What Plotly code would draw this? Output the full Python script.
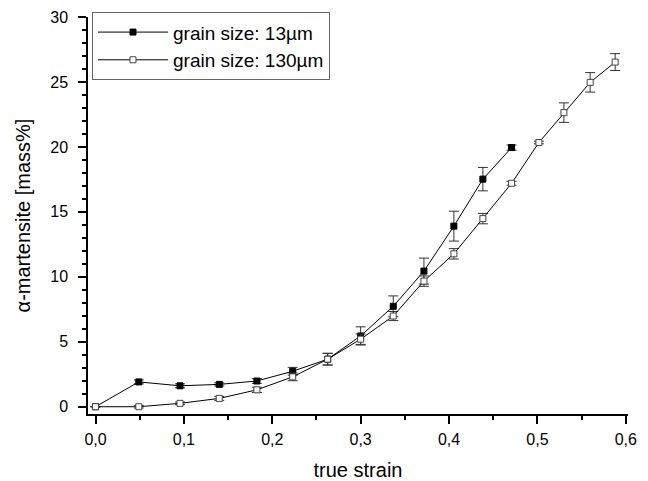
import plotly.graph_objects as go

strain = [0.0, 0.049, 0.0956, 0.140, 0.1826, 0.2231, 0.2627, 0.300, 0.3369, 0.3716, 0.4055, 0.4383, 0.4708, 0.5017, 0.530, 0.5597, 0.588]

fine_x = strain[:13]
fine_y = [0.0, 1.91, 1.61, 1.72, 1.98, 2.73, 3.66, 5.45, 7.73, 10.44, 13.9, 17.52, 19.95]
fine_err = [0.0, 0.15, 0.15, 0.12, 0.18, 0.3, 0.45, 0.7, 0.8, 1.0, 1.15, 0.9, 0.2]

coarse_x = strain
coarse_y = [0.0, 0.0, 0.26, 0.64, 1.3, 2.3, 3.66, 5.2, 6.98, 9.67, 11.77, 14.48, 17.2, 20.34, 22.64, 24.97, 26.53]
coarse_err = [0.0, 0.1, 0.1, 0.15, 0.2, 0.3, 0.45, 0.4, 0.35, 0.4, 0.4, 0.4, 0.15, 0.1, 0.75, 0.75, 0.65]

names = ["grain size: 13µm", "grain size: 130µm"]

fig = go.Figure()
fig.add_trace(go.Scatter(
    x=fine_x, y=fine_y, name=names[0], mode="lines+markers",
    line=dict(color="black", width=1),
    marker=dict(symbol="square", size=6, color="black", line=dict(color="black", width=1)),
    error_y=dict(type="data", array=fine_err, visible=True, color="#333333", thickness=1, width=5),
))
fig.add_trace(go.Scatter(
    x=coarse_x, y=coarse_y, name=names[1], mode="lines+markers",
    line=dict(color="black", width=1),
    marker=dict(symbol="square", size=6, color="white", line=dict(color="#444444", width=1)),
    error_y=dict(type="data", array=coarse_err, visible=True, color="#333333", thickness=1, width=5),
))

fig.update_layout(
    width=648, height=481,
    margin=dict(l=88, r=20, t=15, b=67),
    paper_bgcolor="white", plot_bgcolor="white",
    separators=",.",
    font=dict(family="Liberation Sans, Arial, sans-serif", size=16, color="black"),
    showlegend=True,
    legend=dict(
        x=0.0074, y=1.012, xanchor="left", yanchor="top",
        bordercolor="#666666", borderwidth=1, bgcolor="white",
        font=dict(size=19), tracegroupgap=0, itemwidth=70,
    ),
    xaxis=dict(
        range=[-0.0085, 0.6025], tickvals=[0, 0.1, 0.2, 0.3, 0.4, 0.5, 0.6], tickformat=".1f",
        showgrid=False, zeroline=False, showline=True, linecolor="black", linewidth=1.5,
        ticks="outside", ticklen=8, tickwidth=1.5, tickcolor="black",
        minor=dict(tickvals=[0.05, 0.15, 0.25, 0.35, 0.45, 0.55], ticks="outside", ticklen=4, tickwidth=1.5, tickcolor="black"),
        title=dict(text="true strain", font=dict(size=20), standoff=20),
        tickfont=dict(size=16), automargin=False, ticklabelstandoff=2,
    ),
    yaxis=dict(
        range=[-0.56, 30], tickvals=[0, 5, 10, 15, 20, 25, 30],
        showgrid=False, zeroline=False, showline=True, linecolor="black", linewidth=1.5,
        ticks="outside", ticklen=8, tickwidth=1.5, tickcolor="black",
        minor=dict(dtick=1, ticks="outside", ticklen=4, tickwidth=1.5, tickcolor="black"),
        title=dict(text="α-martensite [mass%]", font=dict(size=20), standoff=14),
        tickfont=dict(size=16), automargin=False, ticklabelstandoff=7,
    ),
)

fig.write_html("out.html", config={"displayModeBar": False},
               post_script="document.body.style.margin='0';")
